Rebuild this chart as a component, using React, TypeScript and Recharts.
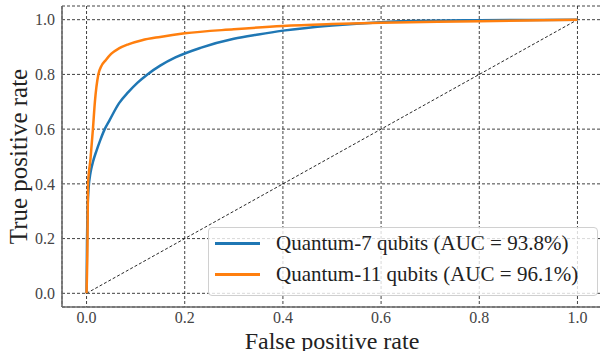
import { LineChart, Line, XAxis, YAxis, CartesianGrid, Legend } from 'recharts';

const ticks = [0, 0.2, 0.4, 0.6, 0.8, 1.0];

// Quantum-7 qubits ROC curve
const q7Fpr = [0, 0.001, 0.002, 0.004, 0.008, 0.013, 0.02, 0.028, 0.037, 0.047, 0.066, 0.085, 0.104, 0.124, 0.15, 0.181, 0.232, 0.3, 0.35, 0.4, 0.5, 0.6, 0.7, 0.8, 0.9, 1.0];
const q7Tpr = [0, 0.2, 0.3, 0.38, 0.44, 0.48, 0.52, 0.56, 0.6, 0.633, 0.694, 0.735, 0.77, 0.8, 0.832, 0.862, 0.897, 0.93, 0.946, 0.96, 0.979, 0.991, 0.996, 0.998, 0.999, 1.0];

// Quantum-11 qubits ROC curve
const q11Fpr = [0, 0.002, 0.003, 0.008, 0.013, 0.017, 0.024, 0.03, 0.039, 0.05, 0.066, 0.085, 0.113, 0.15, 0.2, 0.3, 0.4, 0.5, 0.6, 0.8, 1.0];
const q11Tpr = [0, 0.2, 0.4, 0.49, 0.6, 0.7, 0.8, 0.83, 0.852, 0.875, 0.895, 0.91, 0.925, 0.937, 0.95, 0.965, 0.977, 0.984, 0.989, 0.994, 1.0];

const chanceFpr = [0, 1];
const chanceTpr = [0, 1];

const seriesNames = ['Quantum-7 qubits (AUC = 93.8%)', 'Quantum-11 qubits (AUC = 96.1%)'];
const seriesColors = ['#1f77b4', '#ff7f0e'];

const q7 = q7Fpr.map((fpr, i) => ({ fpr, tpr: q7Tpr[i] }));
const q11 = q11Fpr.map((fpr, i) => ({ fpr, tpr: q11Tpr[i] }));
const chance = chanceFpr.map((fpr, i) => ({ fpr, tpr: chanceTpr[i] }));

const FONT = '"Liberation Serif", "DejaVu Serif", serif';
const FRAME = '#6b6b6b';

const renderLegend = () => (
  <div
    style={{
      background: 'rgba(255,255,255,0.8)',
      border: '1px solid #d0d0d0',
      borderRadius: 4,
      width: 390,
      height: 69,
      boxSizing: 'border-box',
      paddingLeft: 6,
      fontFamily: FONT,
      fontSize: 21,
      color: '#222',
    }}
  >
    {seriesNames.map((name, i) => (
      <div key={name} style={{ display: 'flex', alignItems: 'center', height: 31 }}>
        <span style={{ display: 'inline-block', width: 45, height: 2.5, background: seriesColors[i] }} />
        <span style={{ marginLeft: 16, whiteSpace: 'nowrap' }}>{name}</span>
      </div>
    ))}
  </div>
);

const App = () => {
  return (
    <div style={{ position: 'absolute', left: 0, top: 0, width: 600, height: 351, overflow: 'hidden', background: '#fff' }}>
      <LineChart width={602} height={351} margin={{ top: 6, right: 0, bottom: 0, left: 0 }}>
        <CartesianGrid stroke="#111" strokeWidth={0.8} strokeDasharray="3 2" />
        <XAxis
          dataKey="fpr"
          type="number"
          domain={[-0.05, 1.05]}
          ticks={ticks}
          tickFormatter={(v: number) => v.toFixed(1)}
          height={44}
          tickLine={false}
          tickSize={5}
          tickMargin={0}
          axisLine={{ stroke: FRAME, strokeWidth: 1.6 }}
          tick={{ fontSize: 16, fill: '#444', fontFamily: FONT }}
          label={{ value: 'False positive rate', position: 'insideBottom', offset: 2, style: { fontSize: 24, fill: '#222', fontFamily: FONT } }}
        />
        <XAxis
          xAxisId="top"
          orientation="top"
          dataKey="fpr"
          type="number"
          domain={[-0.05, 1.05]}
          height={0}
          tick={false}
          tickLine={false}
          axisLine={{ stroke: FRAME, strokeWidth: 1.6 }}
        />
        <YAxis
          type="number"
          domain={[-0.05, 1.05]}
          ticks={ticks}
          tickFormatter={(v: number) => v.toFixed(1)}
          width={62}
          tickLine={false}
          tickSize={7}
          tickMargin={0}
          axisLine={{ stroke: FRAME, strokeWidth: 1.6 }}
          tick={{ fontSize: 16, fill: '#444', fontFamily: FONT }}
          label={{ value: 'True positive rate', angle: -90, position: 'insideLeft', offset: 18, style: { textAnchor: 'middle', fontSize: 25, fill: '#222', fontFamily: FONT } }}
        />
        <Legend
          layout="vertical"
          verticalAlign="middle"
          align="center"
          content={renderLegend}
          wrapperStyle={{ left: 208, top: 227, width: 390 }}
        />
        <Line
          data={chance}
          dataKey="tpr"
          stroke="#111"
          strokeWidth={0.9}
          strokeDasharray="3 2"
          dot={false}
          activeDot={false}
          isAnimationActive={false}
          legendType="none"
        />
        <Line
          data={q7}
          dataKey="tpr"
          name={seriesNames[0]}
          type="monotone"
          stroke={seriesColors[0]}
          strokeWidth={2.5}
          dot={false}
          isAnimationActive={false}
        />
        <Line
          data={q11}
          dataKey="tpr"
          name={seriesNames[1]}
          type="monotone"
          stroke={seriesColors[1]}
          strokeWidth={2.5}
          dot={false}
          isAnimationActive={false}
        />
      </LineChart>
    </div>
  );
};

export default App;
